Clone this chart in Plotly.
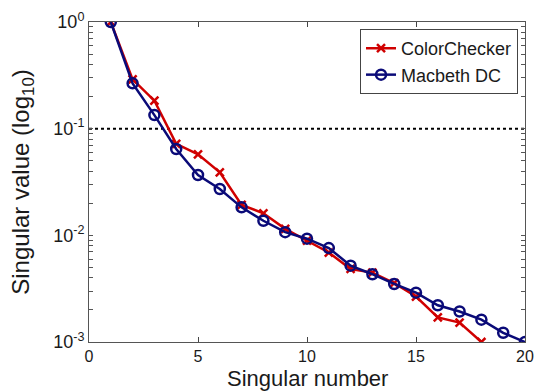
import plotly.graph_objects as go

x_cc = list(range(1, 19))
y_cc = [1.0, 0.29, 0.183, 0.072, 0.0575, 0.039, 0.0193, 0.0161, 0.0115, 0.0089,
        0.0069, 0.00484, 0.00447, 0.00356, 0.00267, 0.0017, 0.00152, 0.001]
x_mdc = list(range(1, 21))
y_mdc = [1.0, 0.266, 0.134, 0.0645, 0.0368, 0.0272, 0.0183, 0.0137, 0.0107, 0.0093,
         0.0076, 0.0052, 0.00432, 0.0035, 0.0029, 0.00221, 0.00193, 0.00162, 0.00122, 0.001]
threshold = 0.1
x_ticks = [0, 5, 10, 15, 20]
y_ticks = [1, 0.1, 0.01, 0.001]
y_tick_text = ["10<sup>0</sup>", "10<sup>-1</sup>", "10<sup>-2</sup>", "10<sup>-3</sup>"]
minor_digits = [2, 3, 4, 5, 6, 7, 8, 9]

y_tickvals = list(y_ticks)
y_ticktext = list(y_tick_text)
for base in [0.001, 0.01, 0.1]:
    for k in minor_digits:
        y_tickvals.append(base * k)
        y_ticktext.append("")

font = "Liberation Sans, Arial, sans-serif"
fig = go.Figure()
fig.add_trace(go.Scatter(x=[0, 20], y=[threshold, threshold], mode="lines",
                         line=dict(color="black", width=2, dash="dot"),
                         showlegend=False, hoverinfo="skip"))
fig.add_trace(go.Scatter(x=x_cc, y=y_cc, mode="lines+markers", name="ColorChecker",
                         line=dict(color="#d00000", width=2.5),
                         marker=dict(symbol="x-thin", size=8, line=dict(color="#d00000", width=2.5))))
fig.add_trace(go.Scatter(x=x_mdc, y=y_mdc, mode="lines+markers", name="Macbeth DC",
                         line=dict(color="#0a0a78", width=2.5),
                         marker=dict(symbol="circle-open", size=10, line=dict(color="#0a0a78", width=2.5))))

fig.update_layout(
    width=535, height=391,
    margin=dict(l=89, r=10, t=22, b=49, autoexpand=False),
    paper_bgcolor="white", plot_bgcolor="white",
    font=dict(family=font, size=18, color="#1a1a1a"),
    legend=dict(x=0.984, y=0.978, xanchor="right", yanchor="top",
                bordercolor="#444", borderwidth=1, bgcolor="white",
                font=dict(size=18), tracegroupgap=0, itemwidth=30),
    annotations=[dict(text="Singular number", xref="paper", yref="paper",
                      x=0.5, y=-0.16, xanchor="center", yanchor="bottom",
                      showarrow=False, font=dict(size=22))],
)
fig.update_xaxes(range=[0, 20], tickvals=x_ticks, ticks="inside", ticklen=5,
                 showline=True, linecolor="#555", linewidth=1, mirror="ticks",
                 showgrid=False, zeroline=False, automargin=False,
                 ticklabeloverflow="allow", tickfont=dict(size=16))
fig.update_yaxes(type="log", range=[-3, 0], tickvals=y_tickvals, ticktext=y_ticktext,
                 ticks="inside", ticklen=4, tickcolor="#555",
                 showline=True, linecolor="#555", linewidth=1, mirror="ticks",
                 showgrid=False, zeroline=False, automargin=False,
                 ticklabeloverflow="allow", tickfont=dict(size=18),
                 title=dict(text="Singular value (log<sub>10</sub>)", font=dict(size=24), standoff=16))
fig.write_html("out.html", post_script="document.body.style.margin='0';",
               config={"displayModeBar": False})
